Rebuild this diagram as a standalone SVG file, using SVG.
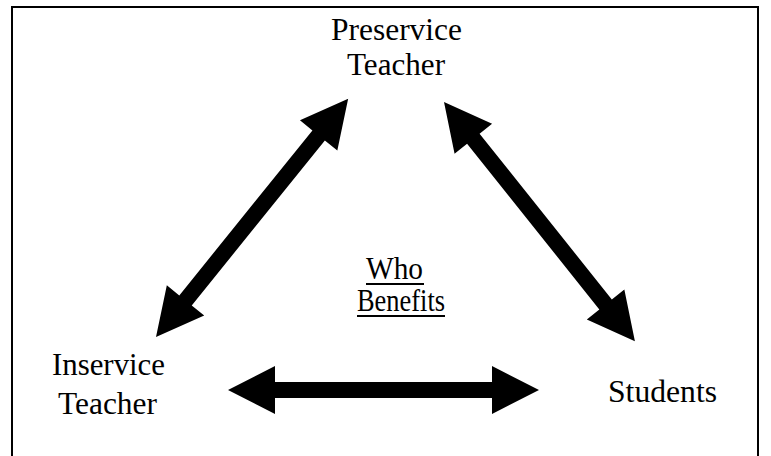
<svg xmlns="http://www.w3.org/2000/svg" width="771" height="456" viewBox="0 0 771 456">
<style>
.t{font-family:"Liberation Serif","Times New Roman",serif;font-size:31px;fill:#000;text-anchor:middle}
.a{fill:#000}
.u{stroke:#000;stroke-width:2}
</style>
<rect width="771" height="456" fill="#fff"/>
<rect x="12" y="7" width="746" height="470" fill="none" stroke="#000" stroke-width="2"/>
<g id="connectors">
<polygon class="a" transform="translate(156,337) rotate(-51.1)" points="0,0 47,-24 47,-8 259,-8 259,-24 306,0 259,24 259,8 47,8 47,24"/>
<polygon class="a" transform="translate(444,102) rotate(51.4)" points="0,0 47,-24 47,-8 259,-8 259,-24 306,0 259,24 259,8 47,8 47,24"/>
<polygon class="a" transform="translate(228,390)" points="0,0 47,-24 47,-8 264,-8 264,-24 311,0 264,24 264,8 47,8 47,24"/>
</g>
<g id="preservice">
<text class="t" x="396.5" y="40" textLength="131" lengthAdjust="spacingAndGlyphs">Preservice</text>
<text class="t" x="396" y="75" textLength="98" lengthAdjust="spacingAndGlyphs">Teacher</text>
</g>
<g id="inservice">
<text class="t" x="108.5" y="375" textLength="113" lengthAdjust="spacingAndGlyphs">Inservice</text>
<text class="t" x="107.5" y="414" textLength="99" lengthAdjust="spacingAndGlyphs">Teacher</text>
</g>
<g id="students">
<text class="t" x="662.5" y="402" textLength="109" lengthAdjust="spacingAndGlyphs">Students</text>
</g>
<g id="who-benefits">
<text class="t" x="394.5" y="279" textLength="57" lengthAdjust="spacingAndGlyphs">Who</text>
<line class="u" x1="366" y1="284" x2="424" y2="284"/>
<text class="t" x="401" y="311" textLength="88" lengthAdjust="spacingAndGlyphs">Benefits</text>
<line class="u" x1="357" y1="316" x2="445" y2="316"/>
</g>
</svg>
